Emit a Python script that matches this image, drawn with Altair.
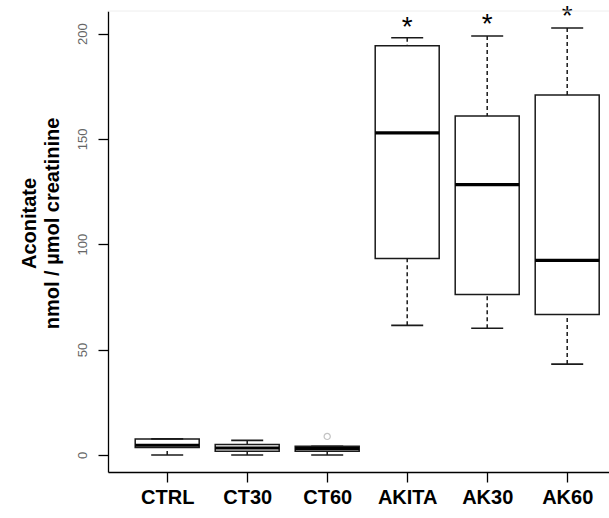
import altair as alt
import pandas as pd

groups = ["CTRL", "CT30", "CT60", "AKITA", "AK30", "AK60"]
positions = [1, 2, 3, 4, 5, 6]
whisker_low = [0.0, 0.0, 0.0, 61.5, 60.1, 43.1]
q1 = [3.5, 1.8, 1.8, 93.2, 76.2, 66.7]
median = [4.6, 3.3, 3.0, 152.9, 128.3, 92.3]
q3 = [7.6, 4.9, 4.1, 194.2, 160.9, 170.8]
whisker_high = [7.6, 6.9, 4.1, 198.0, 198.8, 202.6]

outlier_group = ["CT60"]
outlier_value = [8.8]

star_groups = ["AKITA", "AK30", "AK60"]
star_value = [206.5, 208.0, 211.5]

y_ticks = [0, 50, 100, 150, 200]

FONT = "Liberation Sans"
W, H = 501, 461

df = pd.DataFrame({
    "group": groups, "pos": positions, "lo": whisker_low, "q1": q1,
    "med": median, "q3": q3, "hi": whisker_high,
})
pos_of = dict(zip(groups, positions))
df_out = pd.DataFrame({"group": outlier_group, "v": outlier_value})
df_out["pos"] = df_out["group"].map(pos_of)
df_star = pd.DataFrame({"group": star_groups, "v": star_value})
df_star["pos"] = df_star["group"].map(pos_of)

x_scale = alt.Scale(domain=[0.26, 0.26 + W / 80.0], nice=False, zero=False)
y_scale = alt.Scale(domain=[-8.1, 210.7], nice=False, zero=False)

label_expr = "[" + ",".join("'%s'" % g for g in groups) + "][datum.value - 1]"

x_axis = alt.Axis(
    values=positions, labelExpr=label_expr, title=None, grid=False,
    tickSize=10, tickColor="black", tickWidth=1.3, domainColor="black",
    domainWidth=1.3, labelFont=FONT, labelFontSize=20, labelFontWeight="bold",
    labelColor="black", labelPadding=5, labelFlush=False, labelOverlap=False,
)
y_axis = alt.Axis(
    values=y_ticks, title=["Aconitate", "nmol / µmol creatinine"], grid=False,
    tickSize=10, tickColor="black", tickWidth=1.3, domainColor="black",
    domainWidth=1.3, labelFont=FONT, labelFontSize=13, labelColor="#666666",
    labelAngle=270, labelAlign="center", labelBaseline="middle",
    labelPadding=16, labelFlush=False,
    titleFont=FONT, titleFontSize=20, titleFontWeight="bold", titleColor="black",
    titleLineHeight=23, titleAngle=270, titleAlign="center",
    titleBaseline="middle", titleX=-79, titleY=212,
)

base = alt.Chart(df).transform_calculate(
    left="datum.pos - 0.4", right="datum.pos + 0.4",
    cl="datum.pos - 0.2", cr="datum.pos + 0.2",
)

boxes = base.mark_rect(fill="white", stroke="#1a1a1a", strokeWidth=1.5).encode(
    x=alt.X("left:Q", scale=x_scale, axis=x_axis),
    x2="right:Q",
    y=alt.Y("q1:Q", scale=y_scale, axis=y_axis),
    y2="q3:Q",
)

dash = [4, 3]
whisk_hi = base.mark_rule(color="#1a1a1a", strokeWidth=1.5, strokeDash=dash).encode(
    x=alt.X("pos:Q", scale=x_scale),
    y=alt.Y("hi:Q", scale=y_scale),
    y2="q3:Q",
)
whisk_lo = base.mark_rule(color="#1a1a1a", strokeWidth=1.5, strokeDash=dash).encode(
    x=alt.X("pos:Q", scale=x_scale),
    y=alt.Y("lo:Q", scale=y_scale),
    y2="q1:Q",
)
cap_hi = base.mark_rule(color="#1a1a1a", strokeWidth=1.6).encode(
    x=alt.X("cl:Q", scale=x_scale), x2="cr:Q",
    y=alt.Y("hi:Q", scale=y_scale),
)
cap_lo = base.mark_rule(color="#1a1a1a", strokeWidth=1.6).encode(
    x=alt.X("cl:Q", scale=x_scale), x2="cr:Q",
    y=alt.Y("lo:Q", scale=y_scale),
)
medians = base.mark_rule(color="black", strokeWidth=3.2).encode(
    x=alt.X("left:Q", scale=x_scale), x2="right:Q",
    y=alt.Y("med:Q", scale=y_scale),
)

outliers = alt.Chart(df_out).mark_point(
    shape="circle", filled=False, color="#aaaaaa", size=38, strokeWidth=1.2
).encode(
    x=alt.X("pos:Q", scale=x_scale),
    y=alt.Y("v:Q", scale=y_scale),
)

stars = alt.Chart(df_star).mark_text(
    text="*", font=FONT, fontSize=28, color="black", baseline="alphabetic", dy=16
).encode(
    x=alt.X("pos:Q", scale=x_scale),
    y=alt.Y("v:Q", scale=y_scale),
)

top_line = alt.Chart(df.head(1)).mark_rule(color="#eeeeee", strokeWidth=1).encode(
    x=alt.value(0), x2=alt.value(W), y=alt.value(0)
)
# the plot region continues past the right edge of the picture: hide any edge line
right_cover = alt.Chart(df.head(1)).mark_rule(color="white", strokeWidth=4).encode(
    x=alt.value(W), y=alt.value(1), y2=alt.value(H - 2)
)

chart = alt.layer(
    boxes, medians, whisk_hi, whisk_lo, cap_hi, cap_lo, outliers, stars,
    top_line, right_cover
).properties(
    width=W, height=H,
    padding={"left": 108, "top": 11, "right": 0, "bottom": 518 - 11 - H},
    autosize=alt.AutoSizeParams(type="none"),
    background="white",
    view=alt.ViewBackground(strokeOpacity=0, strokeWidth=0),
).configure_view(strokeOpacity=0, strokeWidth=0)

chart.save("out.html", embed_options={"renderer": "svg", "actions": False})
